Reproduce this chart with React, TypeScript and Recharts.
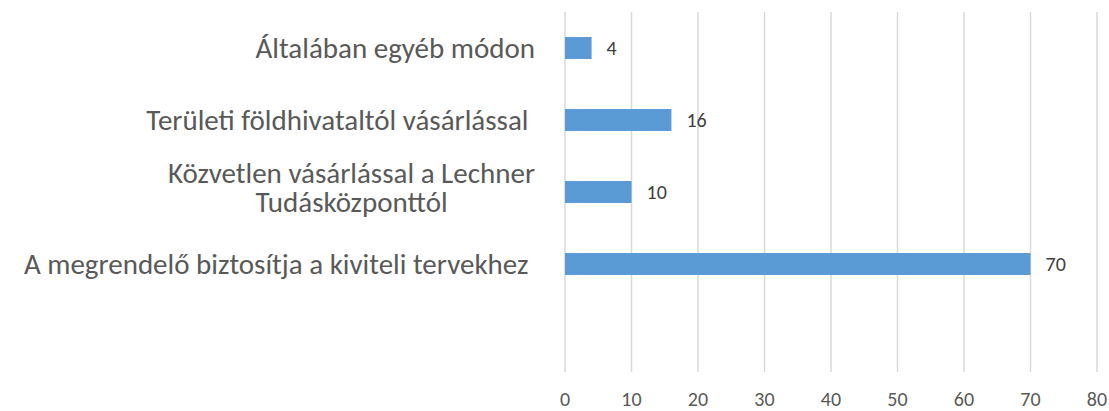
import React from "react";
import { BarChart, Bar, XAxis, YAxis, CartesianGrid, LabelList } from "recharts";

const categories: string[] = [
  "Általában egyéb módon",
  "Területi földhivataltól vásárlással ",
  "Közvetlen vásárlással a Lechner\nTudásközponttól",
  "A megrendelő biztosítja a kiviteli tervekhez ",
  "",
];
const values: (number | null)[] = [4, 16, 10, 70, null];
const xTicks: number[] = [0, 10, 20, 30, 40, 50, 60, 70, 80];

const data = categories.map((name, i) => ({ name, value: values[i] }));

const FONT = "Calibri, Carlito, Lato, sans-serif";
const LABEL_SIZE = 29;

let ctx: CanvasRenderingContext2D | null = null;
function measure(text: string): number {
  if (!ctx) {
    const c = document.createElement("canvas");
    ctx = c.getContext("2d");
  }
  if (!ctx) return text.length * LABEL_SIZE * 0.5;
  ctx.font = `${LABEL_SIZE}px ${FONT}`;
  return ctx.measureText(text).width;
}

const CategoryTick = (props: any) => {
  const { x, y, payload } = props;
  const text: string = payload.value || "";
  if (!text) return null;
  const lines = text.split("\n");
  if (lines.length === 1) {
    return (
      <text
        x={x}
        y={y + 10}
        textAnchor="end"
        fill="#595959"
        fontSize={LABEL_SIZE}
        fontFamily={FONT}
        style={{ whiteSpace: "pre" }}
      >
        {text}
      </text>
    );
  }
  const widths = lines.map((l) => measure(l));
  const maxW = Math.max(...widths);
  const cx = x - maxW / 2;
  const offsets = [-9, 20];
  return (
    <text
      textAnchor="middle"
      fill="#595959"
      fontSize={LABEL_SIZE}
      fontFamily={FONT}
      style={{ whiteSpace: "pre" }}
    >
      {lines.map((l, i) => (
        <tspan key={i} x={cx} y={y + (offsets[i] ?? -9 + i * 29)}>
          {l}
        </tspan>
      ))}
    </text>
  );
};

export default function App() {
  return (
    <div
      style={{
        position: "fixed",
        left: 0,
        top: 0,
        width: 1109,
        height: 411,
        overflow: "hidden",
        background: "#ffffff",
      }}
    >
      <BarChart
        width={1109}
        height={411}
        data={data}
        layout="vertical"
        margin={{ top: 12, right: 12, left: 0, bottom: 0 }}
      >
        <CartesianGrid horizontal={false} stroke="#D9D9D9" strokeWidth={1.5} />
        <XAxis
          type="number"
          domain={[0, 80]}
          ticks={xTicks}
          axisLine={false}
          tickLine={false}
          height={39}
          tickMargin={14}
          tick={{ fill: "#595959", fontSize: 20, fontFamily: FONT }}
          interval={0}
        />
        <YAxis
          type="category"
          dataKey="name"
          width={565}
          axisLine={false}
          tickLine={false}
          tickMargin={24}
          tick={<CategoryTick />}
          interval={0}
        />
        <Bar dataKey="value" fill="#5B9BD5" barSize={22} isAnimationActive={false}>
          <LabelList
            dataKey="value"
            position="right"
            offset={15}
            fill="#404040"
            fontSize={20}
            fontFamily={FONT}
          />
        </Bar>
      </BarChart>
    </div>
  );
}
